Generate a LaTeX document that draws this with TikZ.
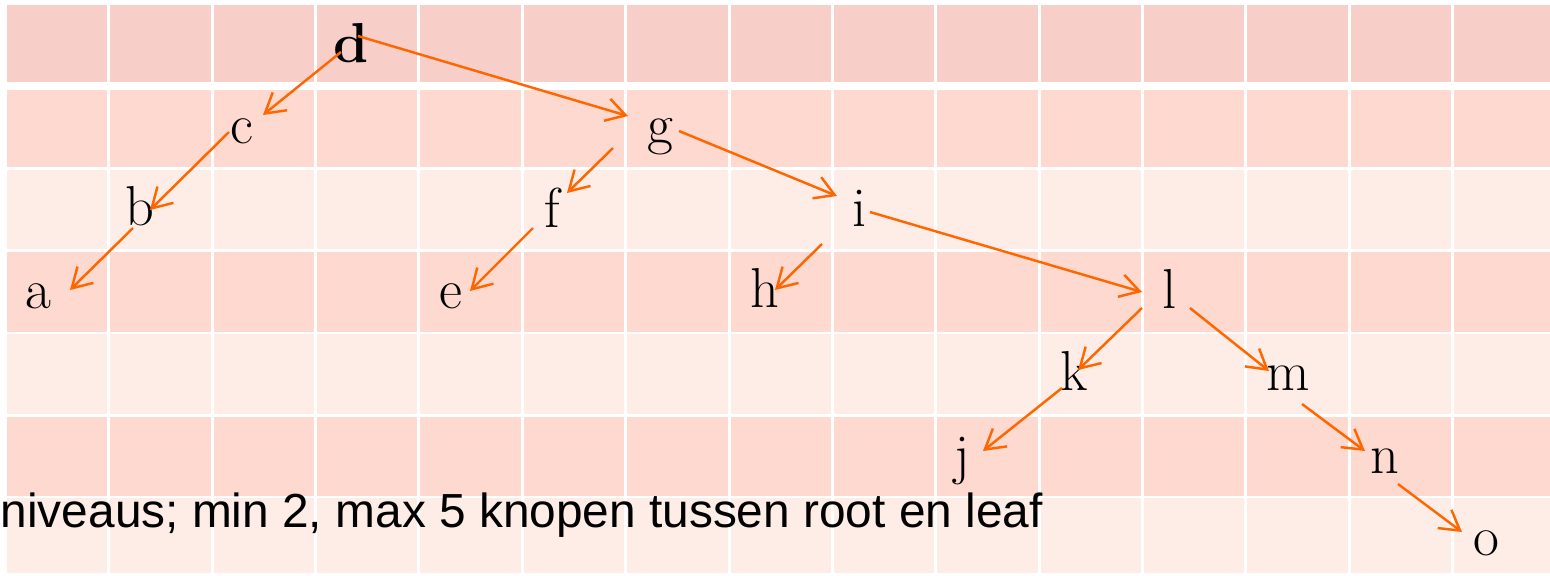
\documentclass[tikz,border=0pt]{standalone}
\usepackage{fontspec}
\usepackage{tikz}
\usetikzlibrary{arrows.meta}
\newfontfamily\notefont{Liberation Sans}
\definecolor{hdrrow}{HTML}{F7CFC8}
\definecolor{bandA}{HTML}{FDD9CF}
\definecolor{bandB}{HTML}{FEEDE7}
\definecolor{treeorange}{HTML}{FF6600}

\tikzset{
  knoop/.style={anchor=base,inner sep=0pt,font=\fontsize{16}{18}\selectfont},
  tak/.style={draw=treeorange,line width=0.7pt,-{Straight Barb[length=5.5pt,width=6.5pt]}}
}

\begin{document}
\begin{tikzpicture}[x=0.01cm,y=-0.01cm]
\useasboundingbox (0,0) rectangle (1550,575);
% table background
\foreach \t/\h/\c in {5/77/hdrrow,90/77/bandA,170/79/bandB,252/80/bandA,334/80/bandB,417/79/bandA,498/75/bandB}
  \foreach \i in {0,...,14}
    \fill[\c] ({7+103.36*\i},\t) rectangle ++(100.4,\h);

% knopen
\node[knoop] (d) at (351,62) {\textbf{d}};
\node[knoop] (c) at (242,143) {c};
\node[knoop] (g) at (660,143) {g};
\node[knoop] (b) at (140,225) {b};
\node[knoop] (f) at (552,227) {f};
\node[knoop] (i) at (860,226) {i};
\node[knoop] (a) at (38,308) {a};
\node[knoop] (e) at (451,308) {e};
\node[knoop] (h) at (765,307) {h};
\node[knoop] (l) at (1170,308) {l};
\node[knoop] (k) at (1074,390) {k};
\node[knoop] (m) at (1288,390) {m};
\node[knoop] (j) at (962,473) {j};
\node[knoop] (n) at (1385,473) {n};
\node[knoop] (o) at (1486,555) {o};

% takken
\draw[tak] ([shift={(-10,-10)}]d.base) -- ([shift={(21,-28)}]c.base);
\draw[tak] ([shift={(7,-26)}]d.base) -- ([shift={(-32,-27)}]g.base);
\draw[tak] ([shift={(-13,-11)}]c.base) -- ([shift={(10,-15)}]b.base);
\draw[tak] ([shift={(-7,3)}]b.base) -- ([shift={(32,-18)}]a.base);
\draw[tak] ([shift={(-47,5)}]g.base) -- ([shift={(15,-34)}]f.base);
\draw[tak] ([shift={(19,-12)}]g.base) -- ([shift={(-23,-30)}]i.base);
\draw[tak] ([shift={(-19,1)}]f.base) -- ([shift={(19,-17)}]e.base);
\draw[tak] ([shift={(-38,18)}]i.base) -- ([shift={(10,-17)}]h.base);
\draw[tak] ([shift={(10,-14)}]i.base) -- ([shift={(-28,-16)}]l.base);
\draw[tak] ([shift={(-28,0)}]l.base) -- ([shift={(4,-20)}]k.base);
\draw[tak] ([shift={(20,0)}]l.base) -- ([shift={(-19,-19)}]m.base);
\draw[tak] ([shift={(-12,-2)}]k.base) -- ([shift={(21,-22)}]j.base);
\draw[tak] ([shift={(14,14)}]m.base) -- ([shift={(-20,-22)}]n.base);
\draw[tak] ([shift={(13,11)}]n.base) -- ([shift={(-24,-23)}]o.base);

\node[anchor=base west,inner sep=0pt,font=\notefont\fontsize{13.6}{16}\selectfont] (note) at (0,527) {niveaus; min 2, max 5 knopen tussen root en leaf};
\end{tikzpicture}
\end{document}
